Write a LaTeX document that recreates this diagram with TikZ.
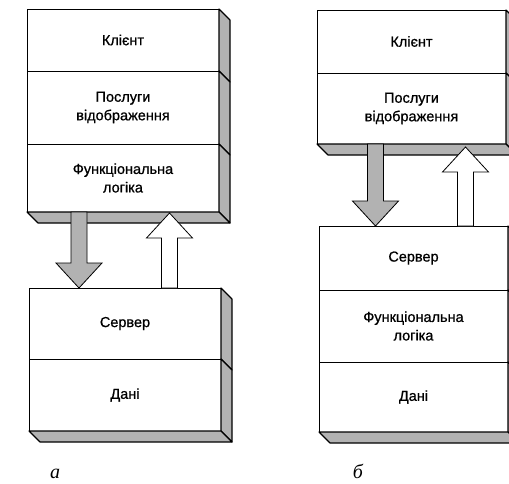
\documentclass[tikz,border=0pt]{standalone}
\usepackage{fontspec}
\setmainfont{Liberation Sans}
\newfontfamily\layerfont{Liberation Sans}[FakeBold=0.8]
\newfontfamily\capfont{Liberation Serif}
\usetikzlibrary{positioning,calc}

% shaded right face of a layer
\newcommand{\sideface}[1]{%
  \filldraw[slab] (#1.north east) -- ++(11,11) -- ([shift={(11,11)}]#1.south east) -- (#1.south east) -- cycle;}
% shaded bottom face of a stack
\newcommand{\baseface}[1]{%
  \filldraw[slab] (#1.south west) -- ++(11,11) -- ([shift={(11,11)}]#1.south east) -- (#1.south east) -- cycle;}
% vertical block arrow: style, from, to
\newcommand{\blockarrow}[3]{%
  \path (#2) coordinate (ba-s) (#3) coordinate (ba-e);
  \filldraw[#1] let \p1=(ba-s), \p2=(ba-e), \n1={sign(\y2-\y1)} in
    (\x1-8pt,\y1) -- (\x1-8pt,\y2-\n1*25pt) -- (\x1-23pt,\y2-\n1*25pt) -- (\x2,\y2)
    -- (\x1+23pt,\y2-\n1*25pt) -- (\x1+8pt,\y2-\n1*25pt) -- (\x1+8pt,\y1) -- cycle;}

\begin{document}
\begin{tikzpicture}[x=1pt, y=-1pt,
    layer/.style={draw, fill=white, line width=0.6pt, minimum width=192, inner sep=0pt,
      outer sep=0pt, align=center, font=\layerfont\fontsize{14.5}{18.5}\selectfont},
    slab/.style={fill=gray!60, draw, line width=1.1pt, line join=round},
    fwd/.style={fill=gray!60, draw, line width=0.8pt},
    back/.style={fill=white, draw, line width=0.8pt},
    caption/.style={font=\capfont\itshape\fontsize{20}{24}\selectfont, anchor=base}]
  \clip (0,0) rectangle (509,483);

  % a: client stack
  \node[layer, anchor=north west, minimum height=62] (ka1) at (27,9) {Клієнт};
  \node[layer, below=0pt of ka1, minimum height=73] (ka2) {Послуги\\відображення};
  \node[layer, below=0pt of ka2, minimum height=68] (ka3) {Функціональна\\логіка};
  % a: server stack
  \node[layer, anchor=north west, minimum height=71] (sa1) at (29,288) {Сервер};
  \node[layer, below=0pt of sa1, minimum height=72] (sa2) {Дані};

  % b: client stack
  \node[layer, anchor=north west, minimum width=189, minimum height=63] (kb1) at (317,10) {Клієнт};
  \node[layer, below=0pt of kb1, minimum width=189, minimum height=71] (kb2) {Послуги\\відображення};
  % b: server stack
  \node[layer, anchor=north west, minimum width=189, minimum height=64] (sb1) at (319,226) {Сервер};
  \node[layer, below=0pt of sb1, minimum width=189, minimum height=72] (sb2) {Функціональна\\логіка};
  \node[layer, below=0pt of sb2, minimum width=189, minimum height=70] (sb3) {Дані};

  % depth
  \foreach \n in {ka1,ka2,ka3,sa1,sa2,kb1,kb2,sb1,sb2,sb3} {\sideface{\n}}
  \baseface{ka3} \baseface{sa2} \baseface{kb2} \baseface{sb3}

  % requests and replies
  \blockarrow{fwd}{[xshift=52]ka3.south west}{[xshift=50]sa1.north west}
  \blockarrow{back}{[xshift=140.5]sa1.north west}{[xshift=142.5, yshift=-1]ka3.south west}
  \blockarrow{fwd}{[xshift=58.5]kb2.south west}{[xshift=56.5]sb1.north west}
  \blockarrow{back}{[xshift=146.5]sb1.north west}{[xshift=148.5, yshift=-3]kb2.south west}

  \node[caption] (capa) at (55,478) {а};
  \node[caption] (capb) at (358,478) {б};
\end{tikzpicture}
\end{document}
